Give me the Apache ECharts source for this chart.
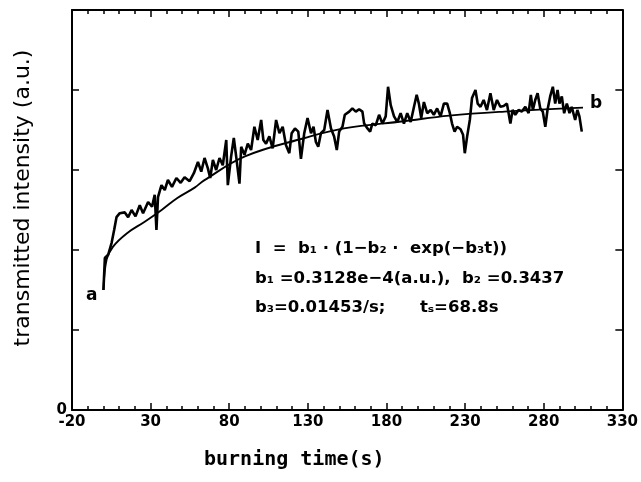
<!DOCTYPE html>
<html>
<head>
<meta charset="utf-8">
<script src="https://cdn.jsdelivr.net/npm/echarts@6/dist/echarts.min.js"></script>
<style>
html,body{margin:0;padding:0;background:#fff;}
#main{width:641px;height:482px;}
</style>
</head>
<body>
<div id="main"></div>
<script>
// ---- data ----
var xTickValues = [-20, 30, 80, 130, 180, 230, 280, 330];
var yTickLabels = ['0'];

var measTime = [0, 0.9, 3.0, 5.2, 6.8, 8.3, 10.4, 13.6, 15.7, 17.9, 20.4, 23.1, 25.2, 28.4, 30.9, 32.6, 33.7, 34.7, 36.9, 39.0, 41.0, 43.6, 46.4, 49.1, 51.6, 54.8, 57.5,
  60.1, 62.2, 64.3, 66.4, 67.9, 69.6, 71.7, 73.8, 75.9, 78.1, 79.1, 81.2, 82.9, 84.4, 86.5, 87.6, 89.7, 91.8, 93.9, 96.0, 98.1, 100.3, 101.7, 103.4, 105.5, 107.6, 109.8, 111.9, 114.0, 116.1, 118.2, 119.7, 121.8, 123.9, 125.6, 127.7,
  129.8, 132.0, 133.6, 135.1, 136.6, 138.3, 140.4, 142.5, 144.7, 146.7, 148.4, 149.9, 152.0, 153.5, 156.3, 158.3, 160.5, 162.6, 164.7, 165.8, 167.9, 169.6, 171.0, 173.2, 175.3, 177.4, 179.5, 181.0, 182.7, 184.8, 186.9,
  189.0, 191.1, 193.2, 195.4, 197.5, 199.2, 200.6, 202.1, 203.8, 205.9, 208.1, 210.1, 212.2, 214.4, 216.5, 218.6, 220.3, 221.7, 223.3, 224.9, 227.1, 228.7, 229.8, 231.3, 233.0, 234.4, 236.6, 238.0, 239.8, 241.8, 243.9, 246.1, 248.2, 250.3, 252.4,
  254.5, 256.6, 258.8, 260.2, 261.9, 264.0, 266.1, 268.3, 270.4, 271.8, 273.1, 274.6, 276.1, 277.8, 279.4, 281.0, 282.4, 284.1, 285.8, 287.3, 288.8, 290.0, 291.5, 293.0, 294.7, 296.4, 297.8, 300.0, 301.4, 302.7, 304.2];
var measIntensity = [1.5, 1.9, 1.94, 2.09, 2.25, 2.41, 2.46, 2.47, 2.41, 2.5, 2.42, 2.56, 2.46, 2.6, 2.54, 2.69, 2.25, 2.66, 2.81, 2.75, 2.875, 2.79, 2.9, 2.84, 2.91, 2.86, 2.96,
  3.10, 2.98, 3.15, 3.02, 2.90, 3.125, 3.0, 3.15, 3.06, 3.375, 2.81, 3.17, 3.4, 3.17, 2.83, 3.29, 3.19, 3.33, 3.25, 3.54, 3.375, 3.625, 3.375, 3.33, 3.42, 3.27, 3.625, 3.46, 3.54, 3.31, 3.21, 3.46, 3.52, 3.48, 3.14, 3.46,
  3.65, 3.46, 3.54, 3.35, 3.29, 3.46, 3.5, 3.75, 3.52, 3.42, 3.25, 3.48, 3.54, 3.69, 3.73, 3.77, 3.73, 3.76, 3.73, 3.58, 3.52, 3.48, 3.58, 3.56, 3.69, 3.58, 3.67, 4.04, 3.81, 3.67, 3.60,
  3.71, 3.58, 3.71, 3.60, 3.79, 3.94, 3.83, 3.65, 3.85, 3.71, 3.75, 3.69, 3.77, 3.67, 3.83, 3.83, 3.71, 3.58, 3.48, 3.54, 3.51, 3.44, 3.21, 3.42, 3.625, 3.90, 4.0, 3.83, 3.79, 3.875, 3.75, 3.96, 3.75, 3.875, 3.79,
  3.8, 3.83, 3.58, 3.75, 3.69, 3.75, 3.73, 3.79, 3.71, 3.94, 3.75, 3.875, 3.96, 3.77, 3.73, 3.54, 3.75, 3.92, 4.04, 3.83, 4.0, 3.83, 3.92, 3.71, 3.83, 3.71, 3.79, 3.625, 3.75, 3.67, 3.48];

var fitTime = [0, 2, 6, 15, 26, 37, 47, 58, 64, 90, 128, 153, 191, 220, 255, 305];
var fitIntensity = [1.5, 1.88, 2.04, 2.21, 2.35, 2.5, 2.65, 2.78, 2.87, 3.17, 3.4, 3.52, 3.61, 3.68, 3.73, 3.78];

var formulaLines = [
  'I  =  b\u2081 \u00b7 (1\u2212b\u2082 \u00b7  exp(\u2212b\u2083t))',
  'b\u2081 =0.3128e\u22124(a.u.),  b\u2082 =0.3437',
  'b\u2083=0.01453/s;      t\u209b=68.8s'
];
var xTitle = 'burning time(s)';
var yTitle = 'transmitted intensity (a.u.)';

function zip(a, b) { return a.map(function (v, i) { return [v, b[i]]; }); }

var chart = echarts.init(document.getElementById('main'), null, {renderer: 'canvas'});
var axisCommon = {
  type: 'value',
  axisLine: {show: true, onZero: false, lineStyle: {color: '#000', width: 2}},
  axisTick: {show: true, inside: true, length: 7, lineStyle: {color: '#000', width: 1.5}},
  splitLine: {show: false}
};
var tickFont = {color: '#000', fontFamily: 'DejaVu Sans', fontSize: 15, fontWeight: 'bold'};

var option = {
  backgroundColor: '#fff',
  animation: false,
  grid: {left: 72, right: 16, top: 10, bottom: 72, containLabel: false},
  xAxis: [
    Object.assign({}, axisCommon, {
      position: 'bottom', min: -20, max: 330, interval: 50,
      minorTick: {show: true, splitNumber: 5, length: 4, lineStyle: {color: '#000', width: 1.5}},
      axisLabel: Object.assign({margin: 5, formatter: function (v) { return xTickValues.indexOf(v) >= 0 ? String(v) : ''; }}, tickFont)
    }),
    Object.assign({}, axisCommon, {
      position: 'top', min: -20, max: 330, interval: 50,
      minorTick: {show: true, splitNumber: 5, length: 4, lineStyle: {color: '#000', width: 1.5}},
      axisLabel: {show: false}
    })
  ],
  yAxis: [
    Object.assign({}, axisCommon, {
      position: 'left', min: 0, max: 5, interval: 1,
      axisLabel: Object.assign({margin: 5, formatter: function (v) { return v === 0 ? yTickLabels[0] : ''; }}, tickFont)
    }),
    Object.assign({}, axisCommon, {
      position: 'right', min: 0, max: 5, interval: 1,
      axisLabel: {show: false}
    })
  ],
  series: [
    {
      type: 'line', name: 'measured', data: zip(measTime, measIntensity),
      showSymbol: false, symbol: 'none',
      lineStyle: {color: '#000', width: 2.6}
    },
    {
      type: 'line', name: 'fit', data: zip(fitTime, fitIntensity),
      showSymbol: false, symbol: 'none', smooth: 0.4,
      lineStyle: {color: '#000', width: 1.9}
    }
  ],
  graphic: [
    {type: 'text', x: 23, y: 198, rotation: Math.PI / 2,
      style: {text: yTitle, fill: '#000', font: '22px "DejaVu Sans"', textAlign: 'center', textVerticalAlign: 'middle'}},
    {type: 'text', left: 204, top: 450, style: {text: xTitle, fill: '#000', font: 'bold 20px "DejaVu Sans Mono"'}},
    {type: 'text', left: 86, top: 287, style: {text: 'a', fill: '#000', font: 'bold 17px "DejaVu Sans"'}},
    {type: 'text', left: 590, top: 95, style: {text: 'b', fill: '#000', font: 'bold 17px "DejaVu Sans"'}},
    {type: 'text', left: 255, top: 240, style: {text: formulaLines[0], fill: '#000', font: 'bold 16.5px "DejaVu Sans"'}},
    {type: 'text', left: 255, top: 270, style: {text: formulaLines[1], fill: '#000', font: 'bold 16.5px "DejaVu Sans"'}},
    {type: 'text', left: 255, top: 299, style: {text: formulaLines[2], fill: '#000', font: 'bold 16.5px "DejaVu Sans"'}}
  ]
};
chart.setOption(option);
</script>
</body>
</html>
